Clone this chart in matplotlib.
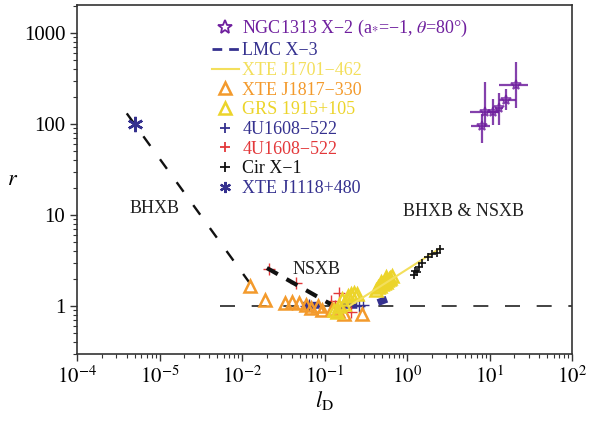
import numpy as np
import matplotlib
matplotlib.use("Agg")
import matplotlib.pyplot as plt
from matplotlib.lines import Line2D

plt.rcParams["font.family"] = ["Liberation Serif", "DejaVu Serif"]
plt.rcParams["mathtext.fontset"] = "stix"

# colours
PURPLE = "#6f1f9e"
NAVY = "#35318f"
YELLOW = "#ecd42a"
PALEYEL = "#f3df5c"
ORANGE = "#f39a2c"
RED = "#e3383a"

# NGC1313 X-2 (x, r, and error bar ends)
ngc_x = [8.1, 8.8, 11.0, 13.0, 16.0, 21.0]
ngc_r = [95, 135, 135, 150, 183, 269]
ngc_xlo = [6.0, 5.8, 9.4, 11.5, 13.0, 13.0]
ngc_xhi = [10.2, 13.1, 13.0, 14.5, 21.0, 29.0]
ngc_rlo = [62, 92, 98, 98, 142, 150]
ngc_rhi = [130, 290, 190, 220, 240, 480]

# LMC X-3 (dashed track)
lmc_x = [0.055, 0.30, 0.43, 0.57]
lmc_r = [1.02, 1.02, 1.08, 1.19]

# XTE J1701-462 (line)
xte1701_x = [0.20, 2.5]
xte1701_r = [1.0, 4.3]

# XTE J1817-330 (orange triangles)
xte1817_x = [0.0125, 0.019, 0.033, 0.040, 0.049, 0.069, 0.083, 0.093, 0.123, 0.172, 0.285, 0.060, 0.145]
xte1817_r = [1.66, 1.16, 1.08, 1.10, 1.08, 0.95, 1.00, 0.90, 0.93, 0.82, 0.82, 1.02, 0.88]

# GRS 1915+105 (yellow triangles)
grs_x = [0.13, 0.15, 0.165, 0.19, 0.21, 0.23, 0.25, 0.14, 0.17,
         0.42, 0.45, 0.47, 0.50, 0.52, 0.55, 0.57, 0.60, 0.62, 0.65, 0.48, 0.56]
grs_r = [0.90, 1.00, 1.20, 1.30, 1.35, 1.40, 1.35, 0.86, 1.05,
         1.50, 1.60, 1.65, 1.75, 1.80, 1.85, 1.95, 2.00, 2.05, 2.15, 1.85, 2.1]

# 4U1608-522 (blue and red crosses)
u1608b_x = [0.060, 0.065, 0.26, 0.29]
u1608b_r = [1.00, 1.03, 1.00, 1.02]
u1608r_x = [0.12, 0.15, 0.135, 0.21, 0.021, 0.045]
u1608r_r = [1.15, 1.40, 1.00, 0.85, 2.55, 1.80]

# Cir X-1 (black crosses)
cir_x = [1.2, 1.25, 1.32, 1.4, 1.5, 1.8, 2.0, 2.3, 2.5]
cir_r = [2.2, 2.45, 2.36, 2.7, 3.0, 3.5, 3.7, 3.8, 4.2]

# XTE J1118+480
j1118_x = [5.0e-4]
j1118_r = [100]

# reference tracks
bhxb_x = [4.0e-4, 0.016]
bhxb_r = [131, 1.3]
nsxb_x = [0.020, 0.123]
nsxb_r = [2.62, 1.03]
unity_x = [0.0054, 100]
unity_r = [1, 1]

xtick_pos = [1e-4, 1e-3, 1e-2, 1e-1, 1e0, 1e1, 1e2]
xtick_labels = ["$10^{-4}$", "$10^{-5}$", "$10^{-2}$", "$10^{-1}$",
                "$10^{0}$", "$10^{1}$", "$10^{2}$"]
ytick_pos = [1, 10, 100, 1000]
ytick_labels = ["1", "10", "100", "1000"]

fig = plt.figure(figsize=(5.93, 4.21), dpi=100)
ax = fig.add_axes([0.130, 0.159, 0.8346, 0.829])
ax.set_xscale("log")
ax.set_yscale("log")
ax.set_xlim(1e-4, 1e2)
ax.set_ylim(0.297, 2030)

# r = 1 line
ln, = ax.plot(unity_x, unity_r, color="#222222", lw=1.2, zorder=1)
ln.set_dashes((9, 10))

# BHXB and NSXB tracks
ln, = ax.plot(bhxb_x, bhxb_r, color="#111111", lw=1.7, zorder=2)
ln.set_dashes((5, 7))
ln, = ax.plot(nsxb_x, nsxb_r, color="#111111", lw=3.0, zorder=4)
ln.set_dashes((3.0, 2.4))

# LMC X-3
ln, = ax.plot(lmc_x, lmc_r, color=NAVY, lw=5, solid_capstyle="butt", zorder=3)
ln.set_dashes((2.4, 3.0))
ln.set_dash_capstyle("butt")

# XTE J1701-462
ax.plot(xte1701_x, xte1701_r, color=PALEYEL, lw=1.5, zorder=6)

ax.plot(u1608b_x, u1608b_r, "+", color=NAVY, ms=9, mew=1.0, zorder=3)
ax.plot(u1608r_x, u1608r_r, "+", color=RED, ms=9, mew=1.0, zorder=3)

ax.plot(xte1817_x, xte1817_r, "^", mfc="none", mec=ORANGE, ms=9, mew=1.8, zorder=5)
ax.plot(grs_x, grs_r, "^", mfc="none", mec=YELLOW, ms=9, mew=1.8, zorder=5)

ax.plot(cir_x, cir_r, "+", color="#111111", ms=6, mew=1.2, zorder=7)

ax.plot(j1118_x, j1118_r, marker=(6, 2, 0), ls="none", color=NAVY, ms=11, mew=1.8, zorder=6)

ngc_x_arr = np.array(ngc_x)
ngc_r_arr = np.array(ngc_r)
xerr = [ngc_x_arr - np.array(ngc_xlo), np.array(ngc_xhi) - ngc_x_arr]
yerr = [ngc_r_arr - np.array(ngc_rlo), np.array(ngc_rhi) - ngc_r_arr]
ax.errorbar(ngc_x, ngc_r, xerr=xerr, yerr=yerr, fmt="*", color=PURPLE,
            mfc="none", ms=7, mew=1.2, elinewidth=1.6, capsize=0, alpha=0.85, zorder=6)

# region labels
ax.text(8.8e-4, 11.9, "BHXB", fontsize=13, ha="center", va="center", color="#222222")
ax.text(0.079, 2.5, "NSXB", fontsize=13, ha="center", va="center", color="#222222")
ax.text(4.8, 11.0, "BHXB & NSXB", fontsize=13, ha="center", va="center", color="#222222")

# legend
handles = [
    Line2D([], [], ls="none", marker="*", mfc="none", mec=PURPLE, ms=10, mew=1.3),
    Line2D([], [], ls=(0, (3.5, 2.5)), color=NAVY, lw=2),
    Line2D([], [], ls="-", color=PALEYEL, lw=1.5),
    Line2D([], [], ls="none", marker="^", mfc="none", mec=ORANGE, ms=9, mew=1.8),
    Line2D([], [], ls="none", marker="^", mfc="none", mec=YELLOW, ms=9, mew=1.8),
    Line2D([], [], ls="none", marker="+", color=NAVY, ms=7, mew=1.3),
    Line2D([], [], ls="none", marker="+", color=RED, ms=7, mew=1.3),
    Line2D([], [], ls="none", marker="+", color="#111111", ms=7, mew=1.3),
    Line2D([], [], ls="none", marker=(6, 2, 0), color=NAVY, ms=8, mew=1.6),
]
labels = [
    "NGC1313 X\u22122 (a$_{*}$=\u22121, $\\theta$=80\u00b0)",
    "LMC X\u22123",
    "XTE J1701\u2212462",
    "XTE J1817\u2212330",
    "GRS 1915+105",
    "4U1608\u2212522",
    "4U1608\u2212522",
    "Cir X\u22121",
    "XTE J1118+480",
]
text_colors = [PURPLE, NAVY, PALEYEL, ORANGE, YELLOW, NAVY, RED, "#111111", NAVY]
leg = ax.legend(handles, labels, loc="upper left", bbox_to_anchor=(0.272, 0.962),
                frameon=False, fontsize=13, handlelength=1.5, handletextpad=0.2,
                labelspacing=0.15, borderpad=0.0, borderaxespad=0.0)
for t, c in zip(leg.get_texts(), text_colors):
    t.set_color(c)

# axes styling
ax.set_xticks(xtick_pos)
ax.set_xticklabels(xtick_labels)
ax.set_yticks(ytick_pos)
ax.set_yticklabels(ytick_labels)
ax.tick_params(which="major", direction="out", length=5, width=1.0, labelsize=15, color="#333333")
ax.tick_params(which="minor", direction="out", length=3, width=0.8, color="#333333")
ax.tick_params(axis="x", pad=4)
for s in ax.spines.values():
    s.set_linewidth(1.2)
    s.set_color("#333333")

ax.set_xlabel("$l_{\\rm D}$", fontsize=16)
ax.xaxis.set_label_coords(0.5, -0.1)
ax.set_ylabel("$r$", fontsize=16, rotation=0)
ax.yaxis.set_label_coords(-0.13, 0.47)

fig.savefig("out.png", dpi=100)
plt.close("all")
